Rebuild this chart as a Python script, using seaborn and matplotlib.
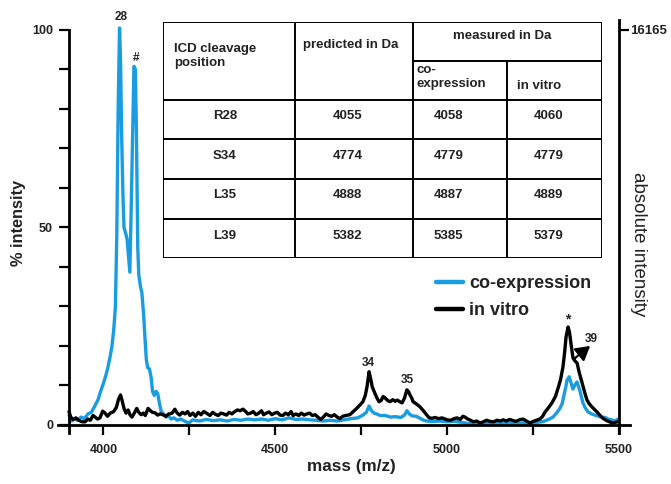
import pandas as pd
import seaborn as sns
import matplotlib.pyplot as plt
from matplotlib.lines import Line2D

# spectrum: co-expression (blue)
mass_coexpr = [3900, 3908, 3915, 3925, 3935, 3945, 3955, 3965, 3975, 3985, 3992, 4000,
               4007, 4013, 4019, 4025, 4030, 4035, 4039, 4043, 4047, 4050, 4053, 4057,
               4060, 4065, 4069, 4073, 4077, 4081, 4085, 4089, 4093, 4096, 4100, 4103,
               4108, 4112, 4117, 4121, 4125, 4129, 4134, 4139, 4143, 4148, 4153, 4158,
               4163, 4168, 4175, 4182, 4190, 4197, 4205, 4215, 4225, 4240, 4249, 4260,
               4280, 4300, 4320, 4340, 4360, 4380, 4400, 4420, 4440, 4460, 4480, 4500,
               4520, 4540, 4560, 4580, 4600, 4620, 4640, 4660, 4680, 4700, 4720, 4740,
               4755, 4765, 4773, 4780, 4787, 4795, 4805, 4820, 4835, 4850, 4865, 4876,
               4883, 4890, 4898, 4910, 4921, 4932, 4941, 4960, 4980, 5000, 5020, 5040,
               5060, 5080, 5100, 5120, 5140, 5160, 5180, 5200, 5220, 5240, 5260, 5280,
               5295, 5308, 5318, 5328, 5335, 5340, 5345, 5349, 5355, 5360, 5366, 5372,
               5378, 5383, 5387, 5391, 5395, 5402, 5410, 5420, 5430, 5440, 5450, 5460,
               5468, 5478, 5488, 5497]
int_coexpr = [2.5, 1.0, 1.5, 1.2, 2.0, 1.6, 2.8, 3.2, 4.8, 6.5, 8.5, 10.5,
              12.5, 14.5, 17.0, 20.0, 24.0, 30.0, 48.0, 80.0, 100.5, 92.0, 74.0, 58.0,
              50.0, 48.5, 47.0, 43.0, 38.7, 55.0, 73.0, 90.8, 90.0, 75.0, 45.0, 38.0,
              35.0, 33.5, 28.0, 22.0, 16.5, 14.5, 14.2, 12.0, 8.5, 7.5, 8.5, 8.0,
              5.5, 3.5, 2.8, 2.0, 2.3, 1.5, 1.8, 1.2, 1.5, 0.8, 0.5, 1.3,
              1.0, 1.4, 1.1, 1.3, 1.0, 1.4, 1.2, 1.5, 1.3, 1.5, 1.2, 1.6,
              1.3, 1.8, 1.4, 1.5, 1.3, 1.2, 1.0, 1.2, 1.0, 1.3, 1.6, 1.8,
              2.5, 3.2, 4.8, 3.6, 3.0, 2.8, 2.4, 2.4, 2.0, 2.1, 1.9, 2.5,
              3.6, 2.8, 2.3, 2.2, 1.7, 1.2, 1.0, 0.9, 1.0, 0.8, 0.9, 0.7,
              0.4, 0.2, 0.5, 0.3, 0.5, 0.3, 0.5, 0.3, 0.5, 0.4, 0.6, 0.9,
              1.4, 2.0, 3.0, 4.2, 5.5, 7.6, 9.5, 11.4, 12.2, 10.8, 9.1, 10.2,
              10.9, 9.5, 8.4, 7.0, 5.6, 4.3, 3.3, 2.8, 2.5, 2.2, 2.0, 1.9,
              1.5, 1.3, 1.0, 1.5]

# spectrum: in vitro (black)
mass_vitro = [3900, 3905, 3912, 3920, 3928, 3938, 3947, 3955, 3962, 3970, 3976, 3983,
              3990, 3998, 4005, 4012, 4020, 4030, 4038, 4044, 4050, 4055, 4060, 4066,
              4072, 4078, 4083, 4090, 4097, 4103, 4110, 4116, 4122, 4130, 4137, 4143,
              4150, 4158, 4165, 4173, 4182, 4190, 4200, 4208, 4215, 4222, 4230, 4238,
              4245, 4252, 4260, 4268, 4276, 4284, 4292, 4300, 4310, 4318, 4326, 4334,
              4342, 4350, 4358, 4366, 4374, 4382, 4390, 4398, 4406, 4414, 4420, 4428,
              4436, 4444, 4452, 4460, 4466, 4474, 4482, 4490, 4498, 4506, 4514, 4522,
              4530, 4538, 4546, 4552, 4560, 4568, 4576, 4584, 4592, 4600, 4608, 4616,
              4624, 4632, 4640, 4648, 4656, 4664, 4672, 4680, 4688, 4696, 4705, 4717,
              4728, 4738, 4748, 4755, 4762, 4767, 4773, 4778, 4782, 4790, 4796, 4802,
              4808, 4814, 4820, 4827, 4834, 4842, 4849, 4855, 4862, 4869, 4876, 4883,
              4888, 4892, 4897, 4901, 4911, 4921, 4931, 4941, 4948, 4956, 4965, 4975,
              4985, 5000, 5010, 5020, 5029, 5038, 5046, 5052, 5060, 5068, 5076, 5086,
              5096, 5105, 5115, 5125, 5135, 5145, 5155, 5163, 5172, 5182, 5192, 5200,
              5210, 5221, 5231, 5241, 5250, 5260, 5270, 5278, 5285, 5295, 5305, 5315,
              5323, 5330, 5337, 5342, 5346, 5352, 5356, 5360, 5366, 5372, 5378, 5384,
              5390, 5395, 5401, 5407, 5414, 5421, 5428, 5436, 5445, 5453, 5462, 5472,
              5480, 5488, 5495]
int_vitro = [3.4, 2.0, 1.4, 1.8, 1.2, 0.8, 0.8, 1.5, 1.2, 2.4, 2.0, 1.5,
             1.8, 3.5, 3.0, 2.2, 3.0, 3.4, 4.5, 6.5, 7.6, 6.0, 4.2, 3.0,
             3.8, 2.5, 2.0, 3.0, 4.2, 3.2, 2.6, 3.0, 2.4, 4.2, 3.6, 3.2,
             3.1, 2.5, 2.8, 2.6, 2.2, 2.8, 3.0, 4.0, 3.0, 2.5, 3.2, 2.8,
             3.4, 2.4, 3.0, 2.2, 3.2, 2.6, 3.4, 3.0, 2.4, 3.2, 2.7, 2.4,
             3.0, 2.8, 2.5, 3.2, 2.8, 3.4, 3.8, 3.6, 4.0, 3.4, 2.8, 3.0,
             3.4, 2.6, 3.0, 3.6, 2.6, 3.0, 3.3, 2.6, 3.0, 3.2, 2.5, 2.4,
             3.0, 2.6, 3.4, 2.4, 2.8, 2.4, 3.0, 2.5, 2.8, 3.0, 2.4, 2.6,
             2.0, 1.4, 2.0, 2.8, 2.4, 2.2, 2.6, 2.0, 1.6, 2.2, 2.4, 2.6,
             3.5, 4.3, 5.2, 5.9, 7.5, 9.7, 13.5, 11.5, 9.7, 8.0, 6.8, 5.9,
             6.2, 7.2, 6.8, 6.2, 5.9, 6.4, 6.0, 6.3, 5.9, 5.6, 6.8, 8.9,
             8.4, 7.6, 6.8, 5.9, 5.3, 4.6, 3.6, 2.5, 1.8, 1.7, 1.9, 1.6,
             1.8, 1.3, 1.2, 1.6, 1.8, 1.4, 2.2, 2.0, 1.5, 1.2, 0.8, 1.0,
             0.5, 0.8, 1.2, 0.9, 0.8, 1.2, 1.0, 1.3, 1.0, 1.4, 1.1, 0.9,
             1.3, 1.5, 1.0, 0.5, 0.9, 1.2, 1.5, 2.2, 3.3, 4.4, 5.6, 7.2,
             9.4, 11.5, 14.7, 18.5, 22.3, 24.8, 23.5, 20.8, 17.0, 16.2, 15.7, 13.4,
             11.5, 10.0, 8.0, 6.3, 5.3, 4.6, 4.0, 3.3, 2.4, 1.7, 1.2, 0.8,
             0.5, 0.6, 0.8]

# peak labels
peak_labels = ['28', '#', '34', '35', '*']
peak_x = [4051, 4095, 4771, 4885, 5352]
peak_y = [103.3, 92.9, 15.7, 11.4, 26.6]

# inset table
cleavage_pos = ['R28', 'S34', 'L35', 'L39']
predicted = [4055, 4774, 4888, 5382]
measured_coexpr = [4058, 4779, 4887, 5385]
measured_vitro = [4060, 4779, 4889, 5379]

blue = '#1a9ce0'

df = pd.concat([
    pd.DataFrame({'mass': mass_coexpr, 'intensity': int_coexpr, 'sample': 'co-expression'}),
    pd.DataFrame({'mass': mass_vitro, 'intensity': int_vitro, 'sample': 'in vitro'}),
])

sns.set_theme(style='ticks')
plt.rcParams['font.family'] = ['Liberation Sans', 'DejaVu Sans']

W, H = 671, 484
fig = plt.figure(figsize=(W / 100, H / 100), dpi=100)
ax = fig.add_axes([58 / W, (H - 433) / H, 572 / W, (433 - 20.1) / H])

sns.lineplot(data=df, x='mass', y='intensity', hue='sample',
             hue_order=['co-expression', 'in vitro'],
             palette={'co-expression': blue, 'in vitro': 'black'},
             estimator=None, sort=False, linewidth=2.4, legend=False, ax=ax)

ax.set_xlim(3868, 5532)
ax.set_ylim(-2.03, 102.5)

# axes / spines
for s in ['top', 'right']:
    ax.spines[s].set_visible(False)
ax.spines['left'].set_position(('data', 3900))
ax.spines['left'].set_bounds(-2.03, 100)
ax.spines['bottom'].set_position(('data', 0))
for s in ['left', 'bottom']:
    ax.spines[s].set_linewidth(2.0)
    ax.spines[s].set_color('black')

ax.set_xticks([4000, 4250, 4500, 4750, 5000, 5250, 5500])
ax.set_xticklabels(['4000', '', '4500', '', '5000', '', '5500'])
ax.set_yticks(list(range(0, 101, 10)))
ax.set_yticklabels(['0', '', '', '', '', '50', '', '', '', '', '100'])
ax.tick_params(axis='x', length=7.5, width=1.6, pad=6, labelsize=9, colors='black')
ax.tick_params(axis='y', length=7.5, width=1.6, pad=4, labelsize=9, colors='black')
for lab in ax.get_xticklabels() + ax.get_yticklabels():
    lab.set_fontweight('bold')
    lab.set_color('#222222')

ax.set_xlabel('mass (m/z)', fontsize=12.3, fontweight='bold', color='#222222')
ax.xaxis.set_label_coords((351 - 58) / 572, (433 - 459) / 412.9)
ax.set_ylabel('% intensity', fontsize=11.8, fontweight='bold', color='#222222', va='center')
ax.yaxis.set_label_coords((19 - 58) / 572, (433 - 223) / 412.9)

# right axis (absolute intensity)
ax2 = ax.twinx()
ax2.set_ylim(ax.get_ylim())
for s in ['top', 'left', 'bottom']:
    ax2.spines[s].set_visible(False)
ax2.spines['right'].set_position(('data', 5500))
ax2.spines['right'].set_bounds(-2.03, 102.5)
ax2.spines['right'].set_linewidth(2.0)
ax2.spines['right'].set_color('black')
ax2.set_yticks([100])
ax2.set_yticklabels(['16165'])
ax2.tick_params(axis='y', length=7, width=1.6, pad=1, labelsize=9.5, colors='black')
for lab in ax2.get_yticklabels():
    lab.set_fontweight('bold')
    lab.set_color('#222222')
ax.text((638 - 58) / 572, (433 - 244) / 412.9, 'absolute intensity', transform=ax.transAxes,
        rotation=270, ha='center', va='center', fontsize=13.5, color='#222222')

# peak annotations
for lab, px, py in zip(peak_labels, peak_x, peak_y):
    size = 10 if lab == '*' else 8.5
    ax.text(px, py, lab, ha='center', va='center', fontsize=size, fontweight='bold', color='#222222')
ax.text(5418, 21.8, '39', ha='center', va='center', fontsize=8.5, fontweight='bold', color='#222222')
ax.annotate('', xy=(5416, 20.0), xytext=(5370, 16.8),
            arrowprops=dict(arrowstyle='-|>,head_length=0.6,head_width=0.35', color='black',
                            lw=1.6, shrinkA=0, shrinkB=0, mutation_scale=14))

# legend
handles = [Line2D([0], [0], color=blue, lw=3.2), Line2D([0], [0], color='black', lw=3.2)]
leg = ax.legend(handles, ['co-expression', 'in vitro'], loc='upper left',
                bbox_to_anchor=(436 / W, (H - 275) / H), bbox_transform=fig.transFigure,
                frameon=False, borderpad=0, borderaxespad=0, handlelength=1.5,
                handletextpad=0.35, labelspacing=0.55,
                prop={'size': 13, 'weight': 'bold'})
for t in leg.get_texts():
    t.set_color('#222222')

# inset table, drawn in pixel-like coordinates
tl, tt, tw, th = 162.7, 21.7, 439.0, 236.0
tax = fig.add_axes([tl / W, (H - tt - th) / H, tw / W, th / H])
tax.set_xlim(0, tw)
tax.set_ylim(th, 0)
tax.axis('off')
lw = 1.4
row_y = [0, 78.3, 117.6, 157.6, 197.3, th]
for x in [0, 132.6, 250.6, tw]:
    tax.plot([x, x], [0, th], color='black', lw=lw, solid_capstyle='projecting')
tax.plot([344.0, 344.0], [39.3, th], color='black', lw=lw)
for y in row_y:
    tax.plot([0, tw], [y, y], color='black', lw=lw, solid_capstyle='projecting')
tax.plot([250.6, tw], [39.3, 39.3], color='black', lw=lw)

fs = 9.5
tkw = dict(fontsize=fs, fontweight='bold', color='#222222', va='center')
tax.text(11.3, 34.5, 'ICD cleavage\nposition', ha='left', linespacing=1.25, **tkw)
tax.text(140, 23.3, 'predicted in Da', ha='left', **tkw)
tax.text(339, 14.3, 'measured in Da', ha='center', **tkw)
tax.text(254, 55, 'co-\nexpression', ha='left', linespacing=1.25, **tkw)
tax.text(354, 64.3, 'in vitro', ha='left', **tkw)
row_c = [94.3, 134.3, 173.3, 214.3]
for i in range(len(cleavage_pos)):
    tax.text(62.3, row_c[i], cleavage_pos[i], ha='center', **tkw)
    tax.text(184.6, row_c[i], str(predicted[i]), ha='center', **tkw)
    tax.text(285.6, row_c[i], str(measured_coexpr[i]), ha='center', **tkw)
    tax.text(385.6, row_c[i], str(measured_vitro[i]), ha='center', **tkw)

fig.savefig('out.png', dpi=100)
